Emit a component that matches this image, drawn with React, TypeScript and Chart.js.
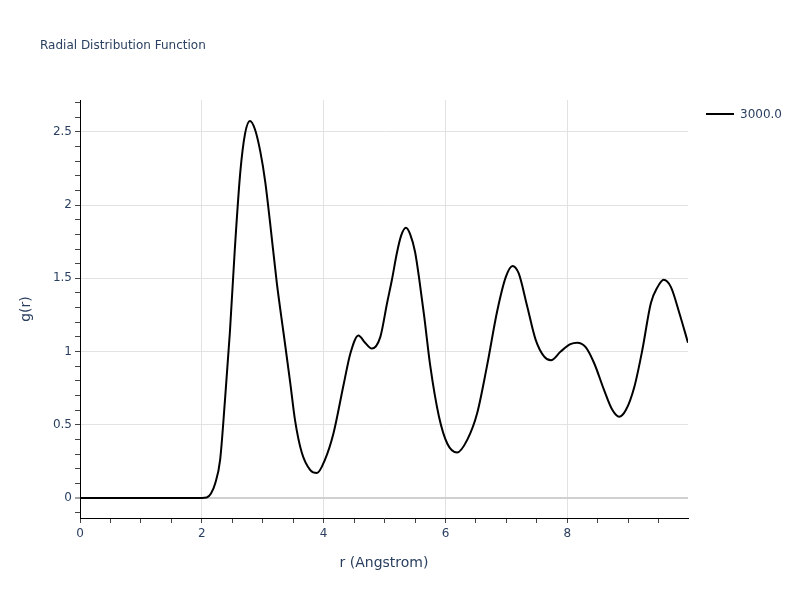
import React, { useEffect, useRef } from "react";
import { Chart, registerables } from "chart.js";

Chart.register(...registerables);

const chartTitle = "Radial Distribution Function";
const seriesName = "3000.0";
const xTitle = "r (Angstrom)";
const yTitle = "g(r)";

const rValues = [
  0, 1, 2.0, 2.08, 2.15, 2.22, 2.3, 2.38, 2.46, 2.54, 2.63, 2.71, 2.79, 2.87, 2.96, 3.04, 3.12, 3.23,
  3.34, 3.45, 3.53, 3.64, 3.78, 3.89, 4.02, 4.16, 4.33, 4.44, 4.57, 4.68, 4.79, 4.93, 5.04, 5.12,
  5.2, 5.27, 5.35, 5.42, 5.5, 5.57, 5.65, 5.75, 5.89, 6.03, 6.19, 6.36, 6.52, 6.68, 6.85, 6.99, 7.1, 7.2,
  7.34, 7.48, 7.62, 7.73, 7.89, 8.05, 8.16, 8.3, 8.44, 8.6, 8.74, 8.85, 8.96, 9.1, 9.23, 9.37,
  9.48, 9.58, 9.7, 9.84, 9.98,
];
const gValues = [
  0, 0, 0, 0.003, 0.03, 0.1, 0.26, 0.67, 1.13, 1.69, 2.22, 2.49, 2.575, 2.52, 2.365, 2.16, 1.88, 1.47,
  1.13, 0.79, 0.53, 0.31, 0.19, 0.17, 0.26, 0.44, 0.78, 0.99, 1.11, 1.06, 1.02, 1.1, 1.33, 1.49,
  1.67, 1.79, 1.845, 1.8, 1.68, 1.49, 1.24, 0.9, 0.56, 0.37, 0.31, 0.4, 0.58, 0.9, 1.28, 1.51, 1.585, 1.535,
  1.31, 1.08, 0.965, 0.94, 1.0, 1.05, 1.06, 1.03, 0.92, 0.74, 0.6, 0.555, 0.6, 0.76, 1.01, 1.33,
  1.44, 1.49, 1.44, 1.26, 1.06,
];

const xTickValues = [0, 0.5, 1, 1.5, 2, 2.5, 3, 3.5, 4, 4.5, 5, 5.5, 6, 6.5, 7, 7.5, 8, 8.5, 9, 9.5];
const xLabelValues = [0, 2, 4, 6, 8];
const yTickValues = [
  -0.1, 0, 0.1, 0.2, 0.3, 0.4, 0.5, 0.6, 0.7, 0.8, 0.9, 1, 1.1, 1.2, 1.3, 1.4, 1.5, 1.6, 1.7, 1.8,
  1.9, 2, 2.1, 2.2, 2.3, 2.4, 2.5, 2.6, 2.7,
];
const yLabelValues = [0, 0.5, 1, 1.5, 2, 2.5];

const FONT = '"DejaVu Sans", Verdana, sans-serif';
const TEXT = "#2a3f5f";

const isIn = (arr: number[], v: number) => arr.some((a) => Math.abs(a - v) < 1e-6);

const overlay = {
  id: "overlay",
  afterDraw(chart: any) {
    const ctx = chart.ctx;
    ctx.save();
    ctx.fillStyle = TEXT;
    ctx.textBaseline = "middle";
    ctx.font = `12px ${FONT}`;
    ctx.textAlign = "left";
    ctx.fillText(chartTitle, 40, 46);

    // legend
    ctx.strokeStyle = "#000";
    ctx.lineWidth = 2;
    ctx.beginPath();
    ctx.moveTo(706, 114);
    ctx.lineTo(734, 114);
    ctx.stroke();
    ctx.fillText(seriesName, 740, 115);

    // axis titles
    ctx.font = `14px ${FONT}`;
    ctx.textAlign = "center";
    const ca = chart.chartArea;
    ctx.fillText(xTitle, (ca.left + ca.right) / 2, 563);
    ctx.translate(26, (ca.top + ca.bottom) / 2);
    ctx.rotate(-Math.PI / 2);
    ctx.fillText(yTitle, 0, 0);
    ctx.restore();
  },
};

export default function App() {
  const ref = useRef<HTMLCanvasElement>(null);
  useEffect(() => {
    if (!ref.current) return;
    const chart = new Chart(ref.current, {
      type: "line",
      data: {
        datasets: [
          {
            label: seriesName,
            data: rValues.map((r, i) => ({ x: r, y: gValues[i] })),
            borderColor: "#000",
            borderWidth: 2,
            pointRadius: 0,
            fill: false,
            cubicInterpolationMode: "monotone",
          },
        ],
      },
      options: {
        animation: false,
        responsive: false,
        maintainAspectRatio: false,
        layout: { padding: { left: 0, top: 100, right: 112, bottom: 0 } },
        plugins: { legend: { display: false }, title: { display: false }, tooltip: { enabled: false } },
        scales: {
          x: {
            type: "linear",
            min: 0,
            max: 9.98,
            afterFit: (s: any) => {
              s.height = 82;
            },
            afterBuildTicks: (s: any) => {
              s.ticks = xTickValues.map((v) => ({ value: v }));
            },
            border: { display: true, color: "#000", width: 1 },
            grid: {
              drawTicks: true,
              tickLength: 5,
              tickColor: "#444",
              tickWidth: 1,
              color: (c: any) =>
                c.tick && isIn(xLabelValues, c.tick.value) && c.tick.value !== 0 ? "#e2e2e2" : "rgba(0,0,0,0)",
              lineWidth: 1,
            },
            ticks: {
              autoSkip: false,
              maxRotation: 0,
              padding: 4,
              color: TEXT,
              font: { family: FONT, size: 12 },
              callback: (v: any) => (isIn(xLabelValues, Number(v)) ? String(v) : ""),
            },
          },
          y: {
            type: "linear",
            min: -0.137,
            max: 2.718,
            afterFit: (s: any) => {
              s.width = 80;
            },
            afterBuildTicks: (s: any) => {
              s.ticks = yTickValues.map((v) => ({ value: v }));
            },
            border: { display: true, color: "#000", width: 1 },
            grid: {
              drawTicks: true,
              tickLength: 5,
              tickColor: "#444",
              tickWidth: 1,
              color: (c: any) => {
                if (!c.tick) return "rgba(0,0,0,0)";
                const v = c.tick.value;
                if (Math.abs(v) < 1e-6) return "#d0d0d0";
                return isIn(yLabelValues, v) ? "#e2e2e2" : "rgba(0,0,0,0)";
              },
              lineWidth: (c: any) => (c.tick && Math.abs(c.tick.value) < 1e-6 ? 2 : 1),
            },
            ticks: {
              autoSkip: false,
              padding: 3,
              color: TEXT,
              font: { family: FONT, size: 12 },
              callback: (v: any) => (isIn(yLabelValues, Number(v)) ? String(Math.round(Number(v) * 10) / 10) : ""),
            },
          },
        },
      },
      plugins: [overlay],
    } as any);
    return () => chart.destroy();
  }, []);
  return (
    <div style={{ position: "absolute", left: 0, top: 0, width: 800, height: 600, background: "#fff" }}>
      <canvas ref={ref} width={800} height={600} style={{ width: 800, height: 600, display: "block" }} />
    </div>
  );
}
